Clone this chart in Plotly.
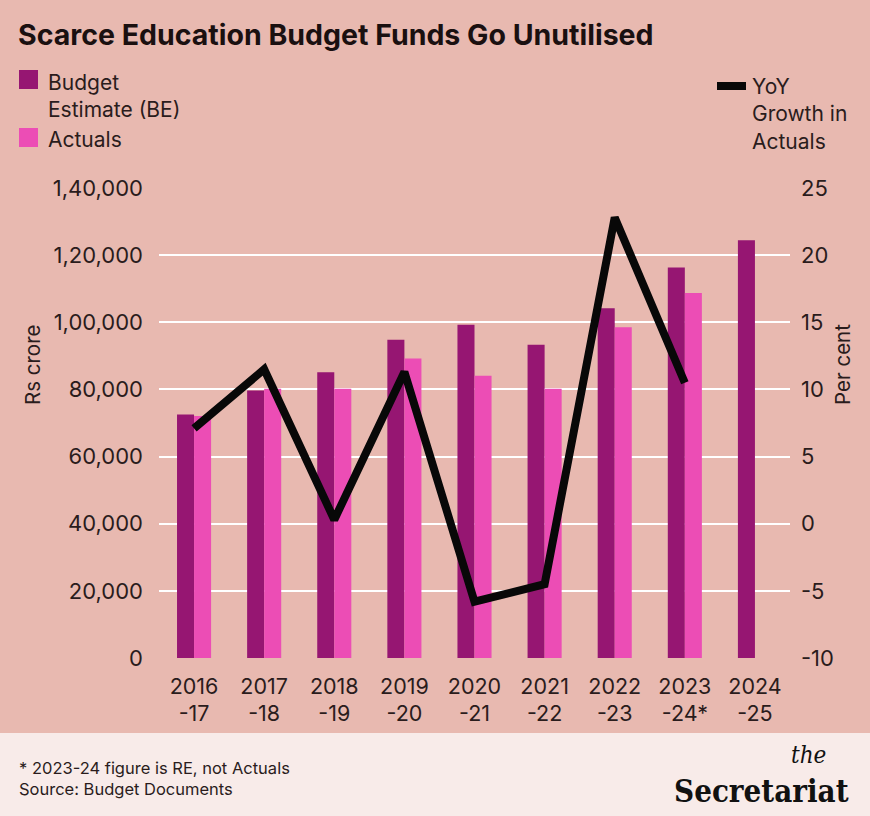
import plotly.graph_objects as go

# ---------------- data ----------------
years = ["2016<br>-17", "2017<br>-18", "2018<br>-19", "2019<br>-20", "2020<br>-21",
         "2021<br>-22", "2022<br>-23", "2023<br>-24*", "2024<br>-25"]
budget_estimate = [72500, 79700, 85100, 94800, 99300, 93300, 104200, 116300, 124400]
actuals = [72100, 80200, 80200, 89200, 84100, 80200, 98500, 108700, None]
yoy_growth = [7.1, 11.5, 0.3, 11.3, -5.8, -4.5, 22.8, 10.5, None]

left_tick_vals = [0, 20000, 40000, 60000, 80000, 100000, 120000, 140000]
left_tick_text = ["0", "20,000", "40,000", "60,000", "80,000", "1,00,000", "1,20,000", "1,40,000"]
right_tick_vals = [-10, -5, 0, 5, 10, 15, 20, 25]
right_tick_text = ["-10", "-5", "0", "5", "10", "15", "20", "25"]

# ---------------- style ----------------
BG = "#e8b9b0"
FOOT = "#f8ebe9"
BE_COL = "#961672"
ACT_COL = "#ec4db5"
TXT = "#2a1c1c"
FONT = "Inter, Roboto, 'Open Sans', sans-serif"
SERIF = "'DejaVu Serif Condensed', 'Liberation Serif', serif"

W_FIG, H_FIG = 870, 816
L, R, T, B = 159, 790, 188, 658
PW, PH = R - L, B - T


def px(x):
    return (x - L) / PW


def py(y):
    return (B - y) / PH


fig = go.Figure()
fig.add_trace(go.Bar(x=years, y=budget_estimate, name="Budget Estimate (BE)",
                     marker=dict(color=BE_COL, line=dict(width=0)), showlegend=False))
fig.add_trace(go.Bar(x=years, y=actuals, name="Actuals",
                     marker=dict(color=ACT_COL, line=dict(width=0)), showlegend=False))
fig.add_trace(go.Scatter(x=years, y=yoy_growth, name="YoY Growth in Actuals", yaxis="y2",
                         mode="lines", line=dict(color="#080808", width=8),
                         showlegend=False))

shapes = [
    dict(type="rect", xref="paper", yref="paper", x0=px(0), x1=px(W_FIG), y0=py(816),
         y1=py(733), fillcolor=FOOT, line=dict(width=0), layer="below"),
    dict(type="rect", xref="paper", yref="paper", x0=px(19), x1=px(38), y0=py(89), y1=py(70),
         fillcolor=BE_COL, line=dict(width=0)),
    dict(type="rect", xref="paper", yref="paper", x0=px(19), x1=px(38), y0=py(147), y1=py(128),
         fillcolor=ACT_COL, line=dict(width=0)),
    dict(type="line", xref="paper", yref="paper", x0=px(717), x1=px(746), y0=py(86), y1=py(86),
         line=dict(color="#080808", width=8)),
]

annotations = [
    dict(text="Budget<br>Estimate (BE)", x=px(46), y=py(68), xanchor="left", yanchor="top",
         align="left", font=dict(size=21, color=TXT, family=FONT)),
    dict(text="Actuals", x=px(46), y=py(139), xanchor="left", yanchor="middle",
         align="left", font=dict(size=21, color=TXT, family=FONT)),
    dict(text="YoY<br>Growth in<br>Actuals", x=px(750), y=py(72), xanchor="left", yanchor="top",
         align="left", font=dict(size=21, color=TXT, family=FONT)),
    dict(text="Rs crore", x=px(32), y=py(365), textangle=-90, xanchor="center", yanchor="middle",
         font=dict(size=20.5, color=TXT, family=FONT)),
    dict(text="Per cent", x=px(842), y=py(365), textangle=-90, xanchor="center", yanchor="middle",
         font=dict(size=20.5, color=TXT, family=FONT)),
    dict(text="* 2023-24 figure is RE, not Actuals<br>Source: Budget Documents", x=px(17), y=py(778),
         xanchor="left", yanchor="middle", align="left",
         font=dict(size=16.5, color=TXT, family=FONT)),
    dict(text="<i>the</i>", x=px(808), y=py(755), xanchor="center", yanchor="middle",
         font=dict(size=24, color="#111111", family=SERIF)),
    dict(text="<b>Secretariat</b>", x=px(851), y=py(791), xanchor="right", yanchor="middle",
         font=dict(size=31, color="#111111", family=SERIF)),
]
for a in annotations:
    a.update(xref="paper", yref="paper", showarrow=False)

fig.update_layout(
    width=W_FIG, height=H_FIG,
    margin=dict(l=L, r=W_FIG - R, t=T, b=H_FIG - B, pad=0),
    paper_bgcolor=BG, plot_bgcolor=BG,
    font=dict(family=FONT, color=TXT, size=20),
    barmode="group", bargap=0.514, bargroupgap=0,
    title=dict(text="<b>Scarce Education Budget Funds Go Unutilised</b>",
               x=18 / W_FIG, xanchor="left", xref="container",
               y=1 - 35 / H_FIG, yanchor="middle", yref="container",
               font=dict(size=28.5, color="#1a1010", family=FONT)),
    xaxis=dict(type="category", showgrid=False, zeroline=False, showline=False, ticks="",
               tickfont=dict(size=21.5, color=TXT), ticklabelstandoff=13),
    yaxis=dict(range=[0, 140000], tickvals=left_tick_vals, ticktext=left_tick_text,
               showgrid=True, gridcolor="#ffffff", gridwidth=2, zeroline=False,
               showline=False, ticks="", tickfont=dict(size=22, color=TXT),
               ticklabelstandoff=15),
    yaxis2=dict(range=[-10, 25], tickvals=right_tick_vals, ticktext=right_tick_text,
                overlaying="y", side="right", showgrid=False, zeroline=False,
                showline=False, ticks="", tickfont=dict(size=22, color=TXT),
                ticklabelstandoff=10),
    shapes=shapes,
    annotations=annotations,
)

fig.write_html("out.html")
